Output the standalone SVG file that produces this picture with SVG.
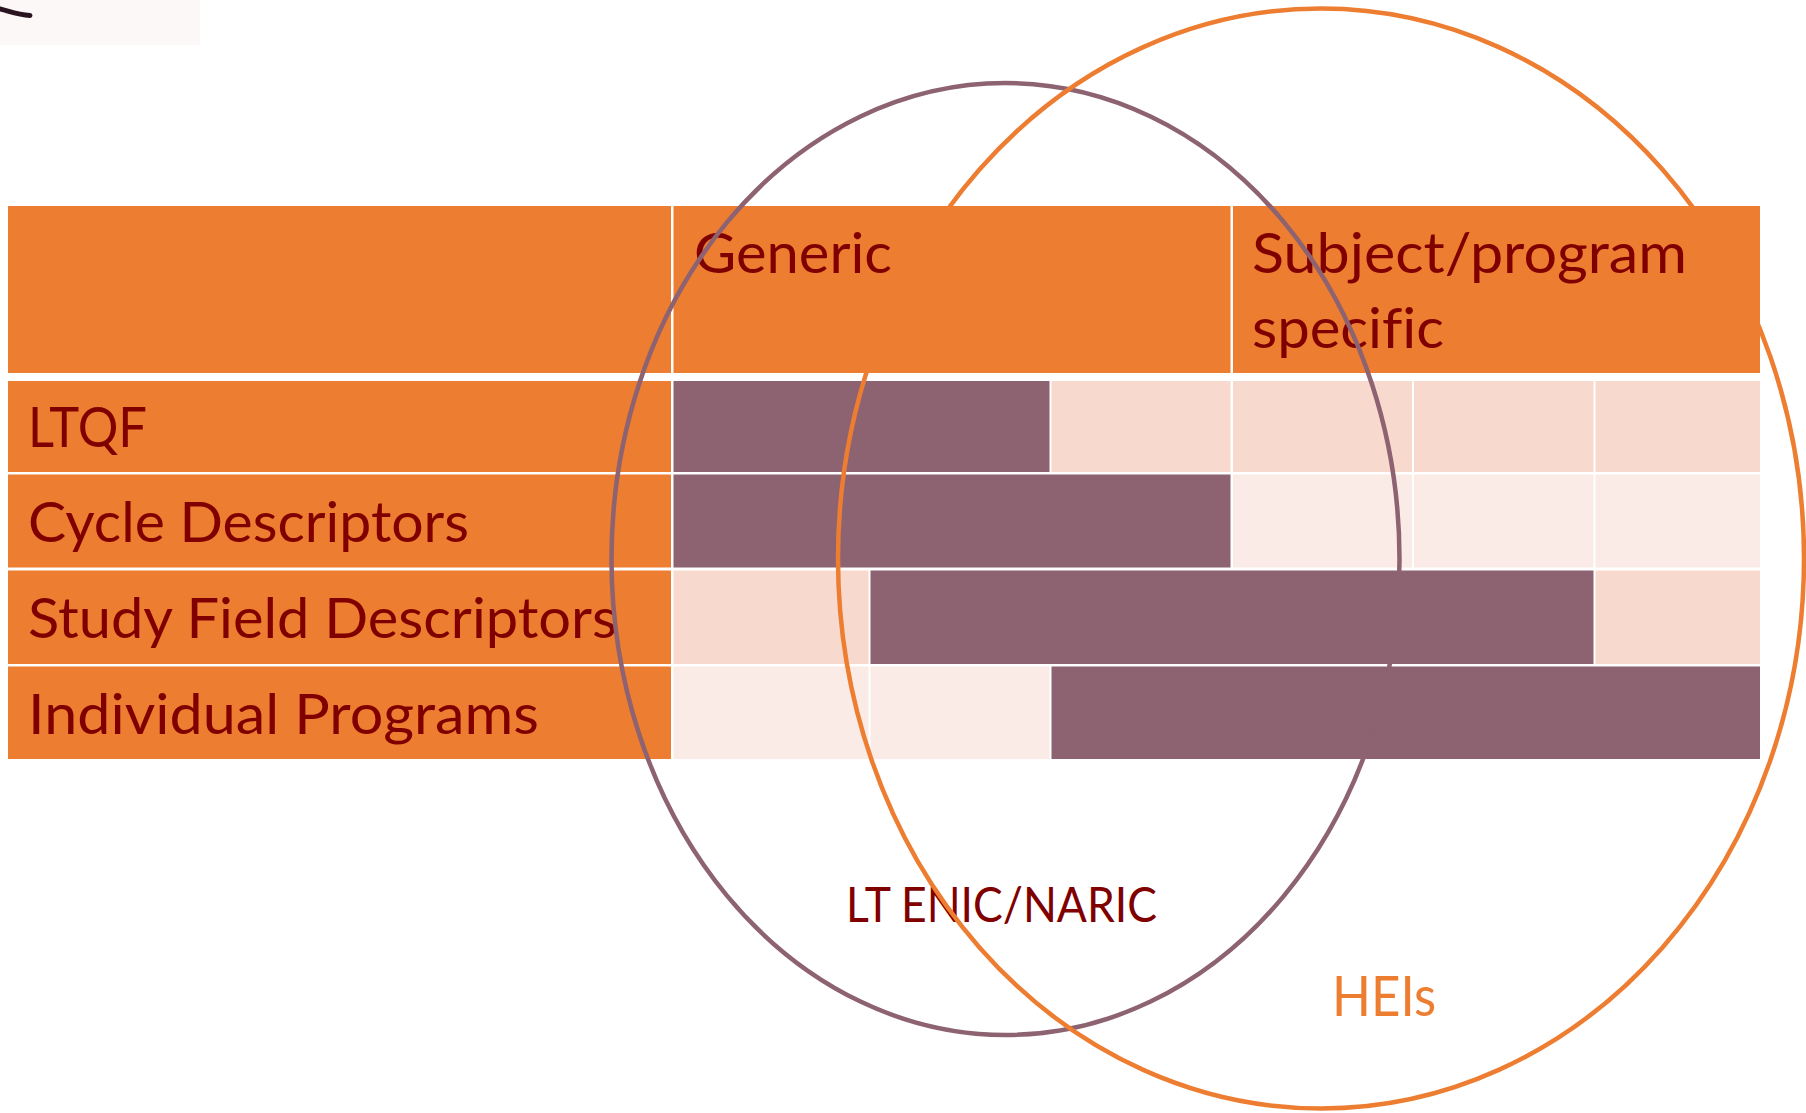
<svg xmlns="http://www.w3.org/2000/svg" width="1806" height="1113" viewBox="0 0 1806 1113">
<style>
.hd{fill:#ED7D31}
.dk{fill:#8D6271}
.md{fill:#F8D9CE}
.lt{fill:#FBEBE6}
text{font-family:Lato,"Open Sans","Liberation Sans",sans-serif;font-variant-ligatures:none;font-feature-settings:"liga" 0}
.t{font-size:56px;fill:#800000}
.ring{fill:none;stroke-width:4.5}
</style>
<rect width="1806" height="1113" fill="#ffffff"/>
<g id="corner">
<rect x="0" y="0" width="200" height="45" fill="#FCF8F8"/>
<path d="M0,9 C10,11.5 18,15 30,15.5" stroke="#2A1420" stroke-width="5" fill="none" stroke-linecap="round"/>
</g>
<g id="header">
<rect class="hd" x="8" y="206" width="663" height="167"/>
<rect class="hd" x="673.5" y="206" width="557" height="167"/>
<rect class="hd" x="1233" y="206" width="527" height="167"/>
<text class="t" x="694" y="273" textLength="198" lengthAdjust="spacingAndGlyphs">Generic</text>
<text class="t" x="1252" y="273" textLength="435" lengthAdjust="spacingAndGlyphs">Subject/program</text>
<text class="t" x="1252" y="348" textLength="192" lengthAdjust="spacingAndGlyphs">specific</text>
</g>
<g id="row-ltqf">
<rect class="hd" x="8" y="381" width="663" height="91"/>
<rect class="dk" x="673.5" y="381" width="376" height="91"/>
<rect class="md" x="1051.5" y="381" width="179" height="91"/>
<rect class="md" x="1233" y="381" width="179" height="91"/>
<rect class="md" x="1414" y="381" width="179.5" height="91"/>
<rect class="md" x="1595.5" y="381" width="164.5" height="91"/>
<text class="t" x="28" y="447" textLength="119" lengthAdjust="spacingAndGlyphs">LTQF</text>
</g>
<g id="row-cycle">
<rect class="hd" x="8" y="474.5" width="663" height="93"/>
<rect class="dk" x="673.5" y="474.5" width="557" height="93"/>
<rect class="lt" x="1233" y="474.5" width="179" height="93"/>
<rect class="lt" x="1414" y="474.5" width="179.5" height="93"/>
<rect class="lt" x="1595.5" y="474.5" width="164.5" height="93"/>
<text class="t" x="28" y="542" textLength="441" lengthAdjust="spacingAndGlyphs">Cycle Descriptors</text>
</g>
<g id="row-study">
<rect class="hd" x="8" y="570.5" width="663" height="93.5"/>
<rect class="md" x="673.5" y="570.5" width="195" height="93.5"/>
<rect class="dk" x="870.5" y="570.5" width="723" height="93.5"/>
<rect class="md" x="1595.5" y="570.5" width="164.5" height="93.5"/>
<text class="t" x="28" y="638" textLength="589" lengthAdjust="spacingAndGlyphs">Study Field Descriptors</text>
</g>
<g id="row-individual">
<rect class="hd" x="8" y="666.5" width="663" height="92.5"/>
<rect class="lt" x="673.5" y="666.5" width="195" height="92.5"/>
<rect class="lt" x="870.5" y="666.5" width="179" height="92.5"/>
<rect class="dk" x="1051.5" y="666.5" width="708.5" height="92.5"/>
<text class="t" x="28" y="734" textLength="511" lengthAdjust="spacingAndGlyphs">Individual Programs</text>
</g>
<g id="label-enic">
<text x="846" y="922" textLength="311" lengthAdjust="spacingAndGlyphs" style="font-size:48px;fill:#800000">LT ENIC/NARIC</text>
</g>
<g id="label-heis">
<text x="1332" y="1016" textLength="104" lengthAdjust="spacingAndGlyphs" style="font-size:56px;fill:#ED7D31">HEIs</text>
</g>
<g id="venn">
<ellipse id="enic-ring" class="ring" cx="1005.5" cy="559" rx="394" ry="476" stroke="#8D6271"/>
<ellipse id="hei-ring" class="ring" cx="1321" cy="558.5" rx="483" ry="550" stroke="#ED7D31"/>
</g>
</svg>
